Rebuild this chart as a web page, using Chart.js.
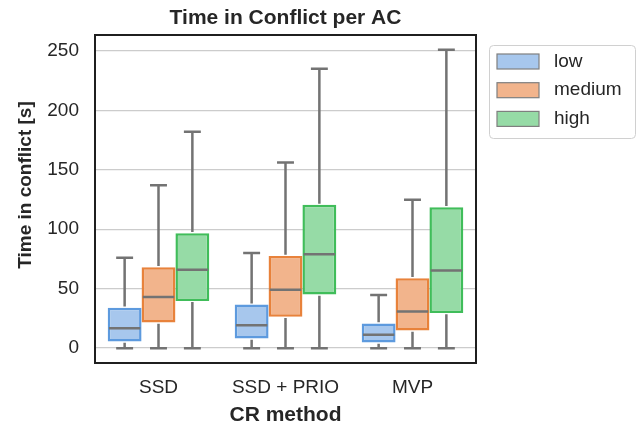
<!DOCTYPE html>
<html>
<head>
<meta charset="utf-8">
<script src="https://cdn.jsdelivr.net/npm/chart.js@4.4.0/dist/chart.umd.min.js"></script>
<style>
  html, body { margin: 0; padding: 0; background: #ffffff; }
  canvas { display: block; }
</style>
</head>
<body>
<canvas id="conflictBoxChart" width="640" height="430"></canvas>
<script>
// categories + box stats
const categories = ['SSD', 'SSD + PRIO', 'MVP'];
const seriesNames = ['low', 'medium', 'high'];
const yTicks = [0, 50, 100, 150, 200, 250];

const lowMin = [0, 0, 0];
const lowQ1 = [5.6, 8.1, 4.7];
const lowMed = [16.8, 19.3, 11.2];
const lowQ3 = [34, 36.6, 20.7];
const lowMax = [76, 80, 44.7];

const mediumMin = [0, 0, 0];
const mediumQ1 = [21.5, 26.3, 14.8];
const mediumMed = [43, 49, 30.8];
const mediumQ3 = [68, 77.5, 58.7];
const mediumMax = [137, 156, 124.7];

const highMin = [0, 0, 0];
const highQ1 = [39.7, 45, 29.6];
const highMed = [66, 79, 65.2];
const highQ3 = [96.7, 120.5, 118.5];
const highMax = [182, 235, 251];

const fillColors = ['#a7c7ed', '#f2b48c', '#96dba6'];
const edgeColors = ['#5d9ade', '#e8823b', '#40bd5a'];
const whiskerColor = '#737373';
const textColor = '#262626';

Chart.defaults.font.family = "'Liberation Sans', Arial, sans-serif";
Chart.defaults.color = textColor;

function boxDataset(i, q1, med, q3, min, max) {
    return {
        label: seriesNames[i],
        data: q1.map((v, k) => [v, q3[k]]),
        backgroundColor: fillColors[i],
        borderColor: edgeColors[i],
        borderWidth: 2.5,
        borderSkipped: false,
        categoryPercentage: 0.8,
        barPercentage: 1.0,
        stats: { min: min, med: med, max: max }
    };
}

// whiskers, caps and median lines on top of the floating bars
const whiskerPlugin = {
    id: 'whiskers',
    afterDatasetsDraw(chart) {
        const ctx = chart.ctx;
        const y = chart.scales.y;
        ctx.save();
        ctx.strokeStyle = whiskerColor;
        ctx.lineWidth = 2.5;
        ctx.lineCap = 'butt';
        chart.data.datasets.forEach((ds, di) => {
            const meta = chart.getDatasetMeta(di);
            meta.data.forEach((bar, k) => {
                const x = bar.x;
                const w = bar.width;
                const q1 = ds.data[k][0], q3 = ds.data[k][1];
                const yMin = y.getPixelForValue(ds.stats.min[k]);
                const yMax = y.getPixelForValue(ds.stats.max[k]);
                const yQ1 = y.getPixelForValue(q1);
                const yQ3 = y.getPixelForValue(q3);
                const yMed = y.getPixelForValue(ds.stats.med[k]);
                ctx.beginPath();
                ctx.moveTo(x, yQ3 - 1.2); ctx.lineTo(x, yMax);
                ctx.moveTo(x, yQ1 + 1.2); ctx.lineTo(x, yMin);
                ctx.moveTo(x - w / 4, yMax); ctx.lineTo(x + w / 4, yMax);
                ctx.moveTo(x - w / 4, yMin); ctx.lineTo(x + w / 4, yMin);
                ctx.moveTo(x - w / 2 + 1.2, yMed); ctx.lineTo(x + w / 2 - 1.2, yMed);
                ctx.stroke();
            });
        });
        ctx.restore();
    }
};

// axes frame, y-axis title and legend box
const framePlugin = {
    id: 'frame',
    afterDraw(chart) {
        const ctx = chart.ctx;
        const a = chart.chartArea;
        ctx.save();
        ctx.strokeStyle = '#1f1f1f';
        ctx.lineWidth = 2;
        ctx.strokeRect(a.left, a.top, a.right - a.left, a.bottom - a.top);

        ctx.fillStyle = textColor;
        ctx.font = "bold 19px 'Liberation Sans', Arial, sans-serif";
        ctx.textAlign = 'center';
        ctx.textBaseline = 'middle';
        ctx.translate(26, 185);
        ctx.rotate(-Math.PI / 2);
        ctx.fillText('Time in conflict [s]', 0, 0);
        ctx.restore();

        // legend
        ctx.save();
        ctx.beginPath();
        ctx.roundRect(489.5, 45.5, 146, 93, 4);
        ctx.fillStyle = '#ffffff';
        ctx.fill();
        ctx.strokeStyle = '#d0d0d0';
        ctx.lineWidth = 1;
        ctx.stroke();
        ctx.font = "19px 'Liberation Sans', Arial, sans-serif";
        ctx.textBaseline = 'middle';
        chart.data.datasets.forEach((ds, i) => {
            const cy = 61.5 + i * 28.7;
            ctx.fillStyle = ds.backgroundColor;
            ctx.fillRect(497, cy - 7.5, 42, 15);
            ctx.strokeStyle = '#7f7f7f';
            ctx.lineWidth = 1.2;
            ctx.strokeRect(497, cy - 7.5, 42, 15);
            ctx.fillStyle = textColor;
            ctx.fillText(ds.label, 554, cy);
        });
        ctx.restore();
    }
};

const ctxBox = document.getElementById('conflictBoxChart').getContext('2d');
new Chart(ctxBox, {
    type: 'bar',
    data: {
        labels: categories,
        datasets: [
            boxDataset(0, lowQ1, lowMed, lowQ3, lowMin, lowMax),
            boxDataset(1, mediumQ1, mediumMed, mediumQ3, mediumMin, mediumMax),
            boxDataset(2, highQ1, highMed, highQ3, highMin, highMax)
        ]
    },
    options: {
        responsive: false,
        animation: false,
        layout: { padding: { top: 0, right: 164, bottom: 0, left: 0 } },
        plugins: {
            legend: { display: false },
            tooltip: { enabled: false },
            title: {
                display: true,
                text: 'Time in Conflict per AC',
                fullSize: false,
                color: textColor,
                font: { size: 21, weight: 'bold' },
                padding: { top: 6, bottom: 3.8 }
            }
        },
        scales: {
            x: {
                grid: { display: false },
                border: { display: false },
                ticks: { font: { size: 19 }, color: textColor, padding: 5 },
                title: {
                    display: true,
                    text: 'CR method',
                    color: textColor,
                    font: { size: 21, weight: 'bold' },
                    padding: { top: 0, bottom: 2 }
                },
                afterFit(scale) { scale.height = 67; }
            },
            y: {
                min: -12.5,
                max: 263.3,
                grid: { color: '#cccccc', lineWidth: 1.3, drawTicks: false },
                border: { display: false },
                ticks: { font: { size: 19 }, color: textColor, padding: 16 },
                afterBuildTicks(scale) { scale.ticks = yTicks.map(v => ({ value: v })); },
                afterFit(scale) { scale.width = 95; }
            }
        }
    },
    plugins: [whiskerPlugin, framePlugin]
});
</script>
</body>
</html>
